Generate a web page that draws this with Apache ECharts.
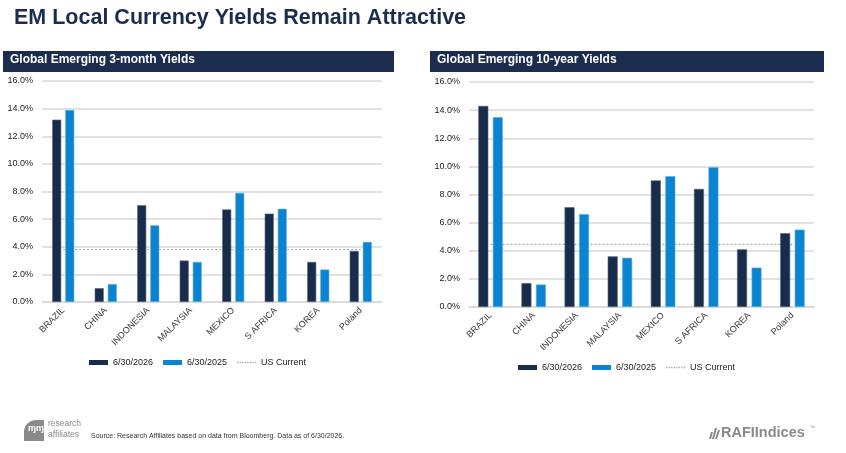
<!DOCTYPE html>
<html>
<head>
<meta charset="utf-8">
<style>
  html, body { margin: 0; padding: 0; background: #fff; }
  #chart { width: 846px; height: 453px; }
</style>
<script src="https://cdn.jsdelivr.net/npm/echarts@6/dist/echarts.min.js"></script>
</head>
<body>
<div id="chart"></div>
<script>
// countries on both charts
var countries = ['BRAZIL', 'CHINA', 'INDONESIA', 'MALAYSIA', 'MEXICO', 'S AFRICA', 'KOREA', 'Poland'];

// 3-month yields (%)
var short2026 = [13.2, 1.0, 7.0, 3.0, 6.7, 6.4, 2.9, 3.7];
var short2025 = [13.9, 1.3, 5.55, 2.9, 7.9, 6.75, 2.35, 4.35];
var shortUS = 3.8;

// 10-year yields (%)
var long2026 = [14.3, 1.7, 7.1, 3.6, 9.0, 8.4, 4.1, 5.25];
var long2025 = [13.5, 1.6, 6.6, 3.5, 9.3, 9.95, 2.8, 5.5];
var longUS = 4.45;

var seriesNames = ['6/30/2026', '6/30/2025', 'US Current'];

var navy = '#182c4c';
var blue = '#0a84d0';
var font = 'Liberation Sans, Arial, sans-serif';

// dotted legend icon for the US line
var dotIcon = 'path://M0,0h1.3v1.4h-1.3z M2.6,0h1.3v1.4h-1.3z M5.2,0h1.3v1.4h-1.3z M7.8,0h1.3v1.4h-1.3z ' +
  'M10.4,0h1.3v1.4h-1.3z M13,0h1.3v1.4h-1.3z M15.6,0h1.3v1.4h-1.3z M18.2,0h1.3v1.4h-1.3z';

var chart = echarts.init(document.getElementById('chart'));

function fill(v) {
  return countries.map(function () { return v; });
}

function xAxisFor(i) {
  return {
    type: 'category',
    gridIndex: i,
    data: countries,
    axisTick: { show: false },
    axisLine: { lineStyle: { color: '#d9d9d9', width: 1.5 } },
    axisLabel: { rotate: 45, fontSize: 9, color: '#333', fontFamily: font, margin: 7, interval: 0 }
  };
}

function yAxisFor(i) {
  return {
    type: 'value',
    gridIndex: i,
    min: 0, max: 16, interval: 2,
    axisLine: { show: false },
    axisTick: { show: false },
    splitLine: { lineStyle: { color: '#d9d9d9', width: 1.5 } },
    axisLabel: {
      fontSize: 9, color: '#222', fontFamily: font, margin: 9,
      formatter: function (v) { return v.toFixed(1) + '%'; }
    }
  };
}

function barsFor(i, a, b, us, w) {
  return [
    { name: seriesNames[0], type: 'bar', xAxisIndex: i, yAxisIndex: i, data: a,
      barWidth: w, barGap: '45%', itemStyle: { color: navy, borderColor: '#56637a', borderWidth: 0.6 }, z: 3 },
    { name: seriesNames[1], type: 'bar', xAxisIndex: i, yAxisIndex: i, data: b,
      barWidth: w, barGap: '45%', itemStyle: { color: blue, borderColor: '#5fb0e2', borderWidth: 0.6 }, z: 3 },
    { name: seriesNames[2], type: 'line', xAxisIndex: i, yAxisIndex: i, data: fill(us),
      symbol: 'none', z: 2,
      lineStyle: { color: '#a6a6a6', width: 1.2, type: [2, 2] }, itemStyle: { color: '#a6a6a6' } }
  ];
}

function legendFor(left, top) {
  return {
    left: left, top: top,
    itemWidth: 19, itemHeight: 5, itemGap: 10,
    itemStyle: { borderWidth: 0 },
    textStyle: { fontSize: 9, color: '#222', fontFamily: font },
    data: [
      { name: seriesNames[0], icon: 'rect' },
      { name: seriesNames[1], icon: 'rect' },
      { name: seriesNames[2], icon: dotIcon }
    ]
  };
}

var option = {
  animation: false,
  backgroundColor: '#fff',
  grid: [
    { left: 42, top: 81, width: 340, height: 221 },
    { left: 469, top: 82, width: 345, height: 225 }
  ],
  xAxis: [xAxisFor(0), xAxisFor(1)],
  yAxis: [yAxisFor(0), yAxisFor(1)],
  legend: [legendFor(84, 353), legendFor(513, 358)],
  series: barsFor(0, short2026, short2025, shortUS, 9).concat(barsFor(1, long2026, long2025, longUS, 10)),
  graphic: [
    { type: 'text', left: 14, top: 7,
      style: { text: 'EM Local Currency Yields Remain Attractive', fill: '#1b2d4f',
               font: 'bold 21.5px ' + font } },
    { type: 'rect', shape: { x: 3, y: 51, width: 391, height: 21 }, style: { fill: '#1b2d4f' } },
    { type: 'text', left: 10, top: 54,
      style: { text: 'Global Emerging 3-month Yields', fill: '#fff', font: 'bold 12px ' + font } },
    { type: 'rect', shape: { x: 430, y: 51, width: 394, height: 21 }, style: { fill: '#1b2d4f' } },
    { type: 'text', left: 437, top: 54,
      style: { text: 'Global Emerging 10-year Yields', fill: '#fff', font: 'bold 12px ' + font } },
    // research affiliates mark
    { type: 'rect', shape: { x: 24, y: 420, width: 20, height: 21, r: [12, 0, 0, 0] }, style: { fill: '#8a8a8a' } },
    { type: 'text', left: 28, top: 424, style: { text: 'ɱɱ', fill: '#fff', font: 'bold 9px ' + font } },
    { type: 'text', left: 48, top: 419, style: { text: 'research', fill: '#8a8a8a', font: '8.5px ' + font } },
    { type: 'text', left: 48, top: 430, style: { text: 'affiliates', fill: '#8a8a8a', font: '8.5px ' + font } },
    { type: 'text', left: 91, top: 433,
      style: { text: 'Source: Research Affiliates based on data from Bloomberg. Data as of 6/30/2026.',
               fill: '#333', font: '7px ' + font } },
    // RAFI Indices mark
    { type: 'polygon', shape: { points: [[709, 439], [711, 432], [713, 432], [711, 439]] }, style: { fill: '#8a8a8a' } },
    { type: 'polygon', shape: { points: [[712, 439], [715, 428], [717, 428], [714, 439]] }, style: { fill: '#8a8a8a' } },
    { type: 'polygon', shape: { points: [[715, 439], [718, 430], [720, 430], [717, 439]] }, style: { fill: '#8a8a8a' } },
    { type: 'text', left: 721, top: 425,
      style: { text: 'RAFIIndices', fill: '#8a8a8a', font: 'bold 14.5px ' + font } },
    { type: 'text', left: 810, top: 425, style: { text: '™', fill: '#8a8a8a', font: '5px ' + font } }
  ]
};

chart.setOption(option);
</script>
</body>
</html>
